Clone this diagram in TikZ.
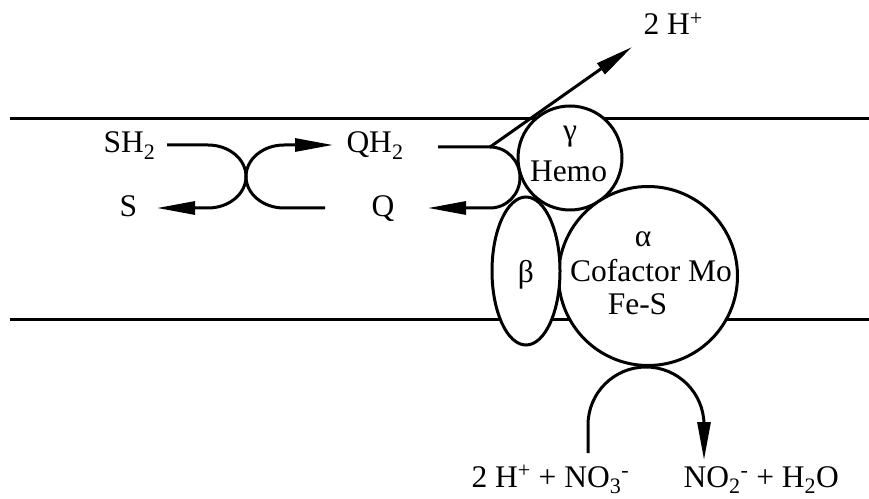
\documentclass[tikz,border=0pt]{standalone}
\usepackage{fontspec}
\setmainfont{Liberation Serif}
\usetikzlibrary{arrows.meta,shapes.geometric}

\begin{document}
\begin{tikzpicture}[x=1pt, y=1pt, >={Triangle[length=38pt, width=13pt]}, line width=3pt,
                subunit/.style={draw, fill=white, inner sep=0pt},
                chem/.style={inner sep=0pt, font=\fontsize{31.5}{36}\selectfont}
            ]
            \useasboundingbox (0,0) rectangle (869,498);

            % Membrane
            \coordinate (topL) at (10,379); \coordinate (topR) at (869,379);
            \coordinate (botL) at (10,178); \coordinate (botR) at (869,178);
            \draw (topL) -- (topR);
            \draw (botL) -- (botR);

            % Subunits
            \node[subunit, circle, minimum size=104pt] (gamma) at (570,340) {};
            \node[subunit, circle, minimum size=179pt] (alpha) at (648,222) {};
            \node[subunit, ellipse, minimum width=68pt, minimum height=148pt] (beta) at (526,227) {};

            \node[chem, anchor=base] (gtxt) at (570,357) {γ};
            \node[chem, anchor=base] (hemo) at (568.5,316) {Hemo};
            \node[chem, anchor=base] (btxt) at (526,215) {β};
            \node[chem, anchor=base] (atxt) at (643,251) {α};
            \node[chem, anchor=base] (cofactor) at (651,216) {Cofactor Mo};
            \node[chem, anchor=base] (fes) at (637.5,183) {Fe-S};

            % Substrate / quinone exchange
            \node[chem, anchor=base west] (SH2) at (102,345) {SH\textsubscript{2}};
            \node[chem, anchor=base west] (S) at (118,281) {S};
            \node[chem, anchor=base west] (QH2) at (345,345) {QH\textsubscript{2}};
            \node[chem, anchor=base west] (Q) at (370,281) {Q};

            \coordinate (sh2out) at (167,353); \coordinate (sin) at (157,290);
            \coordinate (qout) at (325,290); \coordinate (qh2in) at (333,353);
            \draw[->] (sh2out) -- (208,353) arc[start angle=90, end angle=-90, x radius=38, y radius=31.5] -- (sin);
            \draw[->] (qout) -- (284,290) arc[start angle=-90, end angle=-270, x radius=38, y radius=31.5] -- (qh2in);

            % Quinol oxidation and proton release
            \node[chem, anchor=base west] (Hout) at (642,463) {2 H\textsuperscript{+}};
            \coordinate (qh2out) at (438,351); \coordinate (qin) at (428,290);
            \coordinate (hsrc) at (490,351); \coordinate (hdst) at (632,451);
            \draw[->] (qh2out) -- (hsrc) arc[start angle=90, end angle=-90, x radius=30, y radius=30.5] -- (qin);
            \draw[->] (hsrc) -- (hdst);

            % Nitrate reduction
            \node[chem, anchor=base west] (reac) at (470,11) {2 H\textsuperscript{+} + NO\textsubscript{3}\textsuperscript{-}};
            \node[chem, anchor=base west] (prod) at (682,11) {NO\textsubscript{2}\textsuperscript{-} + H\textsubscript{2}O};
            \coordinate (no3) at (588,45); \coordinate (no2) at (704,38);
            \draw[->] (no3) -- (588,73) arc[start angle=180, end angle=0, radius=58] -- (no2);

        \end{tikzpicture}
\end{document}
